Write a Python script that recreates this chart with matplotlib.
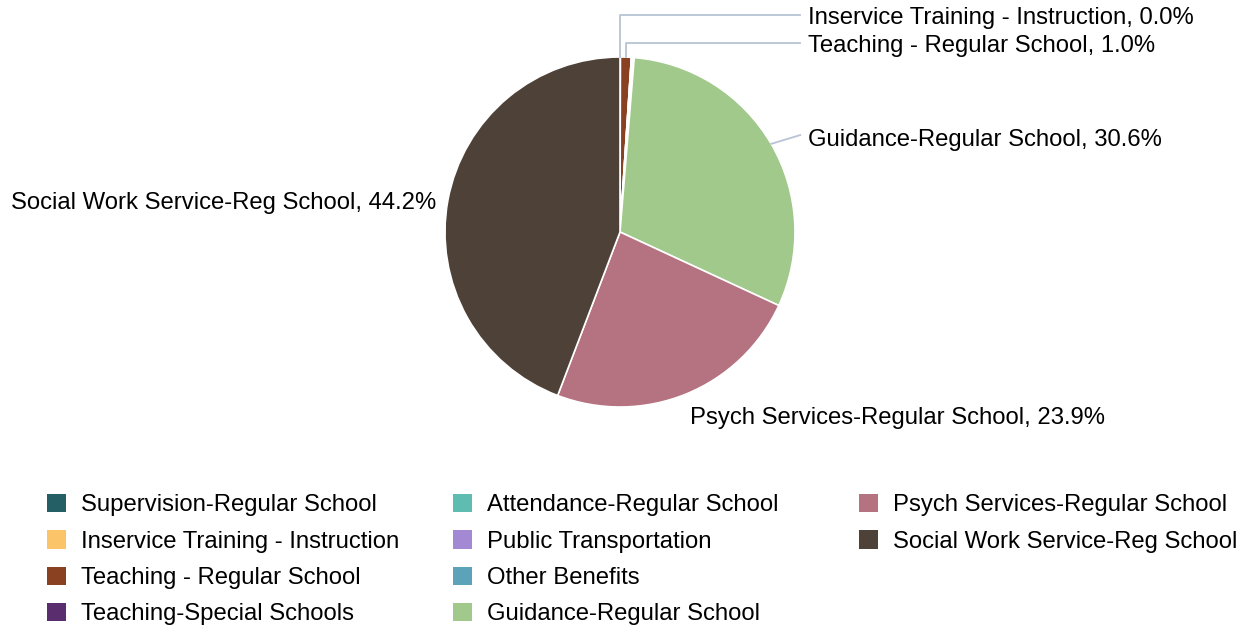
import numpy as np
import matplotlib
matplotlib.use('Agg')
import matplotlib.pyplot as plt
from matplotlib.patches import Patch

plt.rcParams['font.family'] = ['Liberation Sans', 'DejaVu Sans']

categories = ['Supervision-Regular School', 'Inservice Training - Instruction',
              'Teaching - Regular School', 'Teaching-Special Schools',
              'Attendance-Regular School', 'Public Transportation',
              'Other Benefits', 'Guidance-Regular School',
              'Psych Services-Regular School', 'Social Work Service-Reg School']
shares = [0.0, 0.04, 1.0, 0.0, 0.12, 0.0, 0.14, 30.6, 23.9, 44.2]
colors = ['#255f66', '#fcc468', '#8a4121', '#5a2d6e', '#5fbcb0',
          '#a389d4', '#5ca2b8', '#a1c98b', '#b57280', '#4e4138']

W, H = 1252, 628
fig = plt.figure(figsize=(W / 100, H / 100), dpi=100)
cx, cy, r = 620, 232, 175
ax = fig.add_axes([(cx - r) / W, (H - cy - r) / H, 2 * r / W, 2 * r / H])

ax.pie(shares, colors=colors, startangle=90, counterclock=False, radius=1,
       wedgeprops=dict(edgecolor='white', linewidth=1.2))
ax.set_xlim(-1, 1)
ax.set_ylim(-1, 1)
ax.axis('off')

total = sum(shares)
cum = np.cumsum([0] + shares[:-1])
mid = {c: np.deg2rad(90 - (cum[i] + shares[i] / 2) / total * 360)
       for i, c in enumerate(categories)}

line_col = '#b8c4d4'
fs = 17.2
dy = -0.018  # text baseline nudge

# labels with elbow leader lines
for name, ytop in [('Inservice Training - Instruction', 1.24),
                   ('Teaching - Regular School', 1.08)]:
    a = mid[name]
    x0, y0 = np.cos(a), np.sin(a)
    ax.plot([x0, x0, 1.03], [y0, ytop, ytop], color=line_col, lw=1.3,
            clip_on=False)
    pct = shares[categories.index(name)] / total * 100
    ax.text(1.074, ytop + dy, f'{name}, {pct:.1f}%', fontsize=fs,
            va='center', ha='left')

name = 'Guidance-Regular School'
a = mid[name]
ax.plot([np.cos(a), 1.03], [np.sin(a), 0.554], color=line_col, lw=1.3,
        clip_on=False)
ax.text(1.074, 0.543 + dy, f'{name}, {shares[7] / total * 100:.1f}%',
        fontsize=fs, va='center', ha='left')

ax.text(0.4, -1.046 + dy,
        f'Psych Services-Regular School, {shares[8] / total * 100:.1f}%',
        fontsize=fs, va='center', ha='left')
ax.text(-1.051, 0.183 + dy,
        f'Social Work Service-Reg School, {shares[9] / total * 100:.1f}%',
        fontsize=fs, va='center', ha='right')

# legend, three columns
cols = [range(0, 4), range(4, 8), range(8, 10)]
col_x = [47, 453, 859]
for xs, idx in zip(col_x, cols):
    handles = [Patch(facecolor=colors[i], edgecolor='none') for i in idx]
    labels = [categories[i] for i in idx]
    fig.legend(handles, labels, loc='upper left',
               bbox_to_anchor=(xs / W, 1 - 494 / H), frameon=False,
               fontsize=fs, handlelength=0.8, handleheight=0.8,
               handletextpad=0.62, labelspacing=0.58, borderaxespad=0,
               borderpad=0)

fig.savefig('out.png', dpi=100, facecolor='white')
